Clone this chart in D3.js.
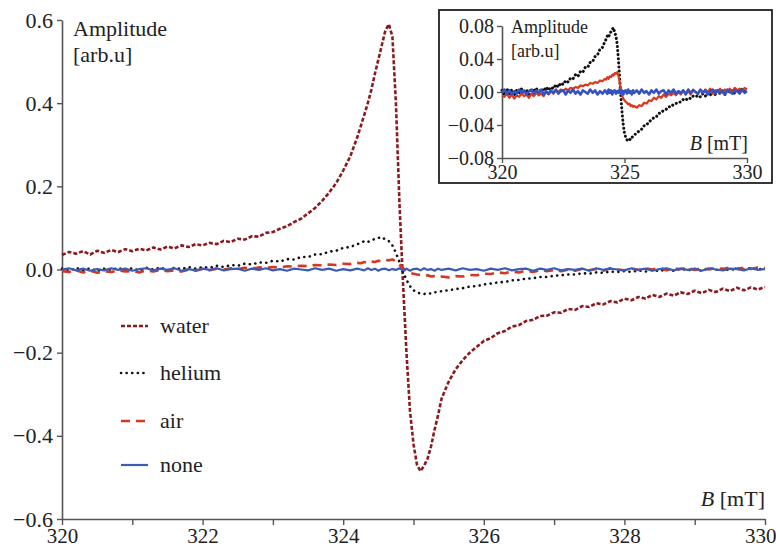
<!DOCTYPE html>
<html><head><meta charset="utf-8">
<script src="https://cdn.jsdelivr.net/npm/d3@7"></script>
<style>
html,body{margin:0;padding:0;background:#fff;}
svg{display:block;}
svg text{font-family:"Liberation Serif","DejaVu Serif",serif !important;}
</style></head>
<body>
<svg id="chart" width="776" height="552"></svg>
<script>
// Magnetic field B [mT]
const fieldB = [
 320.0,320.1,320.2,320.3,320.4,320.5,320.6,320.7,320.8,320.9,
 321.0,321.1,321.2,321.3,321.4,321.5,321.6,321.7,321.8,321.9,
 322.0,322.1,322.2,322.3,322.4,322.5,322.6,322.7,322.8,322.9,
 323.0,323.1,323.2,323.3,323.4,323.5,323.6,323.7,323.8,323.9,
 324.0,324.1,324.2,
 324.25,324.3,324.35,324.4,324.45,324.5,324.55,324.6,324.65,324.7,324.75,324.8,
 324.85,324.9,324.95,325.0,325.05,325.1,325.15,325.2,325.25,325.3,325.35,325.4,
 325.5,325.6,325.7,325.8,325.9,
 326.0,326.1,326.2,326.3,326.4,326.5,326.6,326.7,326.8,326.9,
 327.0,327.1,327.2,327.3,327.4,327.5,327.6,327.7,327.8,327.9,
 328.0,328.1,328.2,328.3,328.4,328.5,328.6,328.7,328.8,328.9,
 329.0,329.1,329.2,329.3,329.4,329.5,329.6,329.7,329.8,329.9,
 330.0
];
const water = [
 0.035,0.042,0.038,0.044,0.036,0.045,0.040,0.047,0.042,0.049,
 0.044,0.050,0.046,0.053,0.048,0.055,0.051,0.058,0.054,0.061,
 0.058,0.064,0.061,0.069,0.066,0.074,0.072,0.080,0.079,0.088,
 0.090,0.098,0.104,0.114,0.122,0.135,0.148,0.165,0.185,0.208,
 0.238,0.272,0.318,
 0.345,0.372,0.400,0.432,0.470,0.505,0.540,0.575,0.590,0.560,0.400,0.160,
 -0.030,-0.200,-0.340,-0.420,-0.470,-0.485,-0.472,-0.455,-0.425,-0.385,-0.350,-0.310,
 -0.270,-0.240,-0.218,-0.200,-0.186,
 -0.172,-0.165,-0.153,-0.148,-0.137,-0.134,-0.124,-0.121,-0.112,-0.111,
 -0.103,-0.104,-0.095,-0.097,-0.088,-0.090,-0.081,-0.084,-0.076,-0.079,
 -0.070,-0.074,-0.066,-0.070,-0.061,-0.066,-0.058,-0.063,-0.055,-0.059,
 -0.051,-0.057,-0.049,-0.054,-0.046,-0.052,-0.044,-0.050,-0.043,-0.048,
 -0.042
];
const helium = [
 0.002,-0.003,0.004,-0.002,0.003,-0.004,0.002,-0.001,0.004,-0.002,
 0.003,-0.003,0.004,0.000,0.005,-0.002,0.004,0.001,0.006,0.002,
 0.006,0.004,0.009,0.006,0.011,0.009,0.014,0.012,0.017,0.016,
 0.021,0.019,0.025,0.024,0.030,0.030,0.036,0.037,0.043,0.045,
 0.052,0.054,0.061,
 0.064,0.068,0.066,0.071,0.073,0.076,0.078,0.072,0.068,0.058,0.040,0.018,
 -0.005,-0.025,-0.040,-0.050,-0.055,-0.058,-0.059,-0.057,-0.058,-0.055,-0.054,-0.052,
 -0.050,-0.047,-0.045,-0.041,-0.040,
 -0.036,-0.034,-0.031,-0.030,-0.026,-0.025,-0.022,-0.021,-0.018,-0.018,
 -0.015,-0.014,-0.012,-0.012,-0.009,-0.010,-0.007,-0.008,-0.005,-0.006,
 -0.004,-0.006,-0.002,-0.005,-0.001,-0.004,0.001,-0.003,0.002,-0.002,
 0.001,-0.003,0.003,-0.001,0.002,-0.002,0.003,0.000,0.004,0.001,
 0.002
];
const air = [
 -0.004,-0.006,-0.002,-0.007,-0.003,-0.008,-0.004,-0.006,-0.002,-0.005,
 -0.003,-0.007,-0.002,-0.005,-0.001,-0.004,-0.002,-0.005,0.000,-0.003,
 0.001,-0.002,0.002,0.000,0.003,0.001,0.004,0.002,0.005,0.004,
 0.006,0.005,0.008,0.007,0.009,0.008,0.011,0.010,0.012,0.011,
 0.014,0.013,0.016,
 0.015,0.018,0.016,0.019,0.018,0.021,0.020,0.023,0.022,0.024,0.020,0.012,
 0.003,-0.004,-0.008,-0.010,-0.012,-0.013,-0.015,-0.014,-0.017,-0.016,-0.018,-0.017,
 -0.019,-0.016,-0.017,-0.013,-0.014,
 -0.010,-0.011,-0.007,-0.009,-0.005,-0.007,-0.003,-0.006,-0.002,-0.004,
 -0.001,-0.004,0.000,-0.003,0.002,-0.002,0.001,-0.003,0.003,0.000,
 -0.002,0.002,-0.001,0.003,0.000,0.004,-0.002,0.002,0.001,0.004,
 -0.001,0.003,0.000,0.004,0.001,0.005,0.002,0.004,0.001,0.005,
 0.003
];
const none = [
 0.000,0.003,-0.002,0.002,-0.003,0.001,-0.002,0.003,-0.001,0.002,
 -0.003,0.001,0.003,-0.002,0.002,-0.001,0.003,-0.003,0.001,-0.002,
 0.002,-0.001,0.003,-0.002,0.001,0.002,-0.003,0.002,-0.001,0.003,
 -0.002,0.001,-0.003,0.002,0.000,-0.002,0.003,-0.001,0.002,-0.003,
 0.001,-0.002,0.002,
 0.000,-0.002,0.003,-0.001,0.002,-0.003,0.001,0.002,-0.002,0.001,-0.001,0.003,
 -0.002,0.002,-0.003,0.001,0.002,-0.002,0.003,-0.001,0.001,-0.003,0.002,-0.001,
 0.002,-0.002,0.003,-0.001,0.001,
 -0.003,0.002,-0.001,0.003,-0.002,0.001,0.002,-0.003,0.002,-0.001,
 0.003,-0.002,0.001,-0.001,0.002,-0.003,0.003,-0.001,0.002,0.000,
 -0.002,0.003,-0.001,0.002,-0.003,0.001,0.003,-0.002,0.002,-0.001,
 0.002,-0.003,0.003,0.000,-0.002,0.002,0.001,-0.002,0.003,-0.001,
 0.001
];
const seriesNames = ["water","helium","air","none"];
const mainXTicks = [320,321,322,323,324,325,326,327,328,329,330];
const mainYTicks = [-0.6,-0.4,-0.2,0.0,0.2,0.4,0.6];
const insetXTicks = [320,325,330];
const insetYTicks = [-0.08,-0.04,0.00,0.04,0.08];

const svg = d3.select("#chart");
const axisColor = "#555";
const textColor = "#222";
const FONT = "'Liberation Serif','DejaVu Serif',serif";

const styles = {
  water:  {stroke:"#8a1a20", width:2.6, dash:"4,2", cap:"butt"},
  helium: {stroke:"#111", width:2.6, dash:"0.1,5.5", cap:"round"},
  air:    {stroke:"#d4381e", width:2.6, dash:"9,6", cap:"butt"},
  none:   {stroke:"#3a5cb4", width:2.2, dash:null, cap:"butt"}
};
const dataBy = {water, helium, air, none};

// ---------- main chart ----------
const x = d3.scaleLinear().domain([320,330]).range([62,765]);
const y = d3.scaleLinear().domain([-0.6,0.6]).range([519,20]);

function styleAxis(g, fs){
  g.attr("font-family", FONT);
  g.select(".domain").attr("stroke",axisColor).attr("stroke-width",1.6);
  g.selectAll(".tick line").attr("stroke",axisColor).attr("stroke-width",1.4);
  g.selectAll(".tick text").attr("fill",textColor).attr("font-size",fs)
    .attr("font-family",FONT);
}

const gx = svg.append("g").attr("transform","translate(0,519)")
  .call(d3.axisBottom(x).tickValues(mainXTicks).tickSize(6).tickSizeOuter(0).tickPadding(3)
    .tickFormat(d => d % 2 === 0 ? d3.format("d")(d) : ""));
styleAxis(gx, 21);
// keep the last label inside the canvas
gx.selectAll(".tick text").filter(d => d === 330)
  .attr("text-anchor","end").attr("x", 776 - x(330));
const gy = svg.append("g").attr("transform","translate(62,0)")
  .call(d3.axisLeft(y).tickValues(mainYTicks).tickSize(5).tickSizeOuter(0).tickPadding(4)
    .tickFormat(d3.format(".1f")));
styleAxis(gy, 22);

const line = d3.line().x((d,i)=>x(fieldB[i])).y(d=>y(d));
seriesNames.forEach(n=>{
  const s = styles[n];
  svg.append("path").datum(dataBy[n]).attr("d",line)
    .attr("fill","none").attr("stroke",s.stroke).attr("stroke-width",s.width)
    .attr("stroke-dasharray",s.dash).attr("stroke-linecap",s.cap)
    .attr("stroke-linejoin","round");
});

function txt(xp, yp, size, str){
  return svg.append("text").attr("x",xp).attr("y",yp).attr("fill",textColor)
    .attr("font-family",FONT).attr("font-size",size).text(str);
}
txt(73,36,22,"Amplitude");
txt(73,62,22,"[arb.u]");
const bl = svg.append("text").attr("x",765).attr("y",506).attr("text-anchor","end")
  .attr("fill",textColor).attr("font-family",FONT).attr("font-size",22);
bl.append("tspan").attr("font-style","italic").text("B");
bl.append("tspan").text(" [mT]");

// legend
const legY = [326,373,421,465];
seriesNames.forEach((n,i)=>{
  const s = styles[n];
  svg.append("line").attr("x1",121).attr("x2",148).attr("y1",legY[i]).attr("y2",legY[i])
    .attr("stroke",s.stroke).attr("stroke-width",s.width)
    .attr("stroke-dasharray",s.dash).attr("stroke-linecap",s.cap);
  txt(160,legY[i],22,n).attr("dy","0.32em");
});

// ---------- inset ----------
const ix = d3.scaleLinear().domain([320,330]).range([502,747]);
const iy = d3.scaleLinear().domain([-0.08,0.08]).range([158,26]);
svg.append("rect").attr("x",439).attr("y",10).attr("width",333).attr("height",173)
  .attr("fill","#fff").attr("stroke","#222").attr("stroke-width",1.8);

const igx = svg.append("g").attr("transform","translate(0,158)")
  .call(d3.axisBottom(ix).tickValues(insetXTicks).tickSize(5).tickSizeOuter(0).tickPadding(2)
    .tickFormat(d3.format("d")));
styleAxis(igx, 20);
const igy = svg.append("g").attr("transform","translate(502,0)")
  .call(d3.axisLeft(iy).tickValues(insetYTicks).tickSize(5).tickSizeOuter(0).tickPadding(3)
    .tickFormat(d3.format(".2f")));
styleAxis(igy, 20);

const iline = d3.line().x((d,i)=>ix(fieldB[i])).y(d=>iy(d));
const insetStyles = {
  helium: {stroke:"#111", width:3, dash:"0.1,4", cap:"round"},
  air:    {stroke:"#d9381e", width:2.2, dash:null, cap:"butt"},
  none:   {stroke:"#3452c0", width:2.6, dash:null, cap:"butt"}
};
["helium","air","none"].forEach(n=>{
  const s = insetStyles[n];
  svg.append("path").datum(dataBy[n]).attr("d",iline)
    .attr("fill","none").attr("stroke",s.stroke).attr("stroke-width",s.width)
    .attr("stroke-dasharray",s.dash).attr("stroke-linecap",s.cap)
    .attr("stroke-linejoin","round");
});
txt(511,33,18,"Amplitude");
txt(511,57,18,"[arb.u]");
const ibl = svg.append("text").attr("x",748).attr("y",150).attr("text-anchor","end")
  .attr("fill",textColor).attr("font-family",FONT).attr("font-size",20);
ibl.append("tspan").attr("font-style","italic").text("B");
ibl.append("tspan").text(" [mT]");
</script>
</body></html>
